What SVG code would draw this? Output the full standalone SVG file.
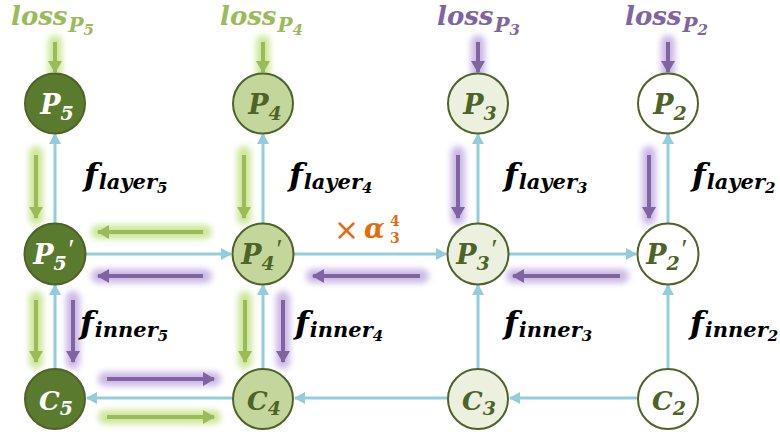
<svg xmlns="http://www.w3.org/2000/svg" width="780" height="432" viewBox="0 0 780 432">
<defs>
<style>
.t{font-family:"DejaVu Serif","Liberation Serif",serif;font-weight:bold;font-style:italic}
.node circle{stroke:#4f6228;stroke-width:2}
.dk circle{fill:#5a7b2e}
.md circle{fill:#c3d69b}
.lt circle{fill:#ebf1de}
.wh circle{fill:#ffffff}
.dk text{fill:#ffffff}
.md text,.lt text,.wh text{fill:#4f6228}
.pr{font-family:"Liberation Serif",serif;font-style:italic;font-weight:normal}
.blue{stroke:#92cddc;stroke-width:3;fill:none;marker-end:url(#ab)}
.g{stroke:#9bbb59;stroke-width:4;fill:none;marker-end:url(#ag)}
.p{stroke:#8064a2;stroke-width:4;fill:none;marker-end:url(#ap)}
.gg{stroke:#c6e48e;stroke-width:14;stroke-linecap:round;opacity:0.9;filter:url(#blur)}
.pg{stroke:#c4b0e2;stroke-width:14;stroke-linecap:round;opacity:0.9;filter:url(#blur)}
.lbl{fill:#000000}
.lg{fill:#9bbb59}
.lp{fill:#8064a2}
.or{fill:#e46c0a}
</style>
<filter id="blur" filterUnits="userSpaceOnUse" x="0" y="0" width="780" height="432"><feGaussianBlur stdDeviation="3"/></filter>
<marker id="ab" markerUnits="userSpaceOnUse" markerWidth="12" markerHeight="12" refX="10" refY="6" orient="auto"><path d="M0,0 L11,6 L0,12 Z" fill="#92cddc"/></marker>
<marker id="ag" markerUnits="userSpaceOnUse" markerWidth="13" markerHeight="14" refX="11" refY="7" orient="auto"><path d="M0,0 L12,7 L0,14 Z" fill="#9bbb59"/></marker>
<marker id="ap" markerUnits="userSpaceOnUse" markerWidth="13" markerHeight="14" refX="11" refY="7" orient="auto"><path d="M0,0 L12,7 L0,14 Z" fill="#8064a2"/></marker>
</defs>
<rect width="780" height="432" fill="#ffffff"/>

<g id="glows">
<line class="gg" x1="55" y1="42" x2="55" y2="72"/>
<line class="gg" x1="263" y1="42" x2="263" y2="72"/>
<line class="pg" x1="478" y1="42" x2="478" y2="72"/>
<line class="pg" x1="668" y1="42" x2="668" y2="72"/>
<line class="gg" x1="36" y1="153" x2="36" y2="218"/>
<line class="gg" x1="244" y1="153" x2="244" y2="218"/>
<line class="pg" x1="458" y1="153" x2="458" y2="218"/>
<line class="pg" x1="649" y1="153" x2="649" y2="218"/>
<line class="gg" x1="205" y1="232" x2="98" y2="232"/>
<line class="pg" x1="205" y1="276" x2="98" y2="276"/>
<line class="pg" x1="422" y1="276" x2="313" y2="276"/>
<line class="pg" x1="622" y1="276" x2="513" y2="276"/>
<line class="gg" x1="36" y1="298" x2="36" y2="362"/>
<line class="pg" x1="73" y1="298" x2="73" y2="362"/>
<line class="gg" x1="245" y1="298" x2="245" y2="362"/>
<line class="pg" x1="283" y1="298" x2="283" y2="362"/>
<line class="pg" x1="105" y1="379" x2="214" y2="379"/>
<line class="gg" x1="105" y1="417" x2="214" y2="417"/>
</g>

<g id="connectors">
<line class="blue" x1="55" y1="223" x2="55" y2="134"/>
<line class="blue" x1="263" y1="223" x2="263" y2="134"/>
<line class="blue" x1="478" y1="223" x2="478" y2="134"/>
<line class="blue" x1="668" y1="223" x2="668" y2="134"/>
<line class="blue" x1="55" y1="368" x2="55" y2="285"/>
<line class="blue" x1="263" y1="368" x2="263" y2="285"/>
<line class="blue" x1="478" y1="368" x2="478" y2="285"/>
<line class="blue" x1="668" y1="368" x2="668" y2="285"/>
<line class="blue" x1="86" y1="254" x2="231" y2="254"/>
<line class="blue" x1="294" y1="254" x2="446" y2="254"/>
<line class="blue" x1="509" y1="254" x2="636" y2="254"/>
<line class="blue" x1="637" y1="398" x2="510" y2="398"/>
<line class="blue" x1="447" y1="398" x2="295" y2="398"/>
<line class="blue" x1="232" y1="398" x2="87" y2="398"/>
</g>

<g id="flows">
<line class="g" x1="55" y1="42" x2="55" y2="72"/>
<line class="g" x1="263" y1="42" x2="263" y2="72"/>
<line class="p" x1="478" y1="42" x2="478" y2="72"/>
<line class="p" x1="668" y1="42" x2="668" y2="72"/>
<line class="g" x1="36" y1="155" x2="36" y2="218"/>
<line class="g" x1="244" y1="155" x2="244" y2="218"/>
<line class="p" x1="458" y1="155" x2="458" y2="218"/>
<line class="p" x1="649" y1="155" x2="649" y2="218"/>
<line class="g" x1="203" y1="232" x2="98" y2="232"/>
<line class="p" x1="203" y1="276" x2="98" y2="276"/>
<line class="p" x1="420" y1="276" x2="313" y2="276"/>
<line class="p" x1="620" y1="276" x2="513" y2="276"/>
<line class="g" x1="36" y1="300" x2="36" y2="362"/>
<line class="p" x1="73" y1="300" x2="73" y2="362"/>
<line class="g" x1="245" y1="300" x2="245" y2="362"/>
<line class="p" x1="283" y1="300" x2="283" y2="362"/>
<line class="p" x1="107" y1="379" x2="214" y2="379"/>
<line class="g" x1="107" y1="417" x2="214" y2="417"/>
</g>

<g id="P5" class="node dk"><circle cx="55" cy="103.5" r="30"/><text class="t" x="57" y="113.5" text-anchor="middle"><tspan font-size="27">P</tspan><tspan font-size="19" dy="6">5</tspan></text></g>
<g id="P4" class="node md"><circle cx="263" cy="103.5" r="30"/><text class="t" x="265" y="113.5" text-anchor="middle"><tspan font-size="27">P</tspan><tspan font-size="19" dy="6">4</tspan></text></g>
<g id="P3" class="node lt"><circle cx="478" cy="103.5" r="30"/><text class="t" x="480" y="113.5" text-anchor="middle"><tspan font-size="27">P</tspan><tspan font-size="19" dy="6">3</tspan></text></g>
<g id="P2" class="node wh"><circle cx="668" cy="103.5" r="30"/><text class="t" x="670" y="113.5" text-anchor="middle"><tspan font-size="27">P</tspan><tspan font-size="19" dy="6">2</tspan></text></g>

<g id="P5p" class="node dk"><circle cx="55" cy="254" r="30.5"/><text class="t" x="53" y="264" text-anchor="middle"><tspan font-size="27">P</tspan><tspan font-size="19" dy="6">5</tspan><tspan class="pr" font-size="28" dy="-12">′</tspan></text></g>
<g id="P4p" class="node md"><circle cx="263" cy="254" r="30.5"/><text class="t" x="261" y="264" text-anchor="middle"><tspan font-size="27">P</tspan><tspan font-size="19" dy="6">4</tspan><tspan class="pr" font-size="28" dy="-12">′</tspan></text></g>
<g id="P3p" class="node lt"><circle cx="478" cy="254" r="30.5"/><text class="t" x="476" y="264" text-anchor="middle"><tspan font-size="27">P</tspan><tspan font-size="19" dy="6">3</tspan><tspan class="pr" font-size="28" dy="-12">′</tspan></text></g>
<g id="P2p" class="node wh"><circle cx="668" cy="254" r="30.5"/><text class="t" x="666" y="264" text-anchor="middle"><tspan font-size="27">P</tspan><tspan font-size="19" dy="6">2</tspan><tspan class="pr" font-size="28" dy="-12">′</tspan></text></g>

<g id="C5" class="node dk"><circle cx="55" cy="399" r="30"/><text class="t" x="56" y="410" text-anchor="middle"><tspan font-size="26">C</tspan><tspan font-size="19" dy="5">5</tspan></text></g>
<g id="C4" class="node md"><circle cx="263" cy="399" r="30"/><text class="t" x="264" y="410" text-anchor="middle"><tspan font-size="26">C</tspan><tspan font-size="19" dy="5">4</tspan></text></g>
<g id="C3" class="node lt"><circle cx="478" cy="399" r="30"/><text class="t" x="479" y="410" text-anchor="middle"><tspan font-size="26">C</tspan><tspan font-size="19" dy="5">3</tspan></text></g>
<g id="C2" class="node wh"><circle cx="668" cy="399" r="30"/><text class="t" x="669" y="410" text-anchor="middle"><tspan font-size="26">C</tspan><tspan font-size="19" dy="5">2</tspan></text></g>

<g id="labels">
<text class="t lg" x="11" y="25"><tspan font-size="26">loss</tspan><tspan font-size="20" dx="1" dy="7">P</tspan><tspan font-size="15" dy="3">5</tspan></text>
<text class="t lg" x="220" y="25"><tspan font-size="26">loss</tspan><tspan font-size="20" dx="1" dy="7">P</tspan><tspan font-size="15" dy="3">4</tspan></text>
<text class="t lp" x="437" y="25"><tspan font-size="26">loss</tspan><tspan font-size="20" dx="1" dy="7">P</tspan><tspan font-size="15" dy="3">3</tspan></text>
<text class="t lp" x="625" y="25"><tspan font-size="26">loss</tspan><tspan font-size="20" dx="1" dy="7">P</tspan><tspan font-size="15" dy="3">2</tspan></text>

<text class="t lbl" x="84" y="186"><tspan font-size="32">f</tspan><tspan font-size="21" dx="1" dy="3">layer</tspan><tspan font-size="15" dy="4">5</tspan></text>
<text class="t lbl" x="289" y="186"><tspan font-size="32">f</tspan><tspan font-size="21" dx="1" dy="3">layer</tspan><tspan font-size="15" dy="4">4</tspan></text>
<text class="t lbl" x="504" y="186"><tspan font-size="32">f</tspan><tspan font-size="21" dx="1" dy="3">layer</tspan><tspan font-size="15" dy="4">3</tspan></text>
<text class="t lbl" x="692" y="186"><tspan font-size="32">f</tspan><tspan font-size="21" dx="1" dy="3">layer</tspan><tspan font-size="15" dy="4">2</tspan></text>

<text class="t lbl" x="80" y="334"><tspan font-size="32">f</tspan><tspan font-size="21" dx="1" dy="3">inner</tspan><tspan font-size="15" dy="4">5</tspan></text>
<text class="t lbl" x="295" y="334"><tspan font-size="32">f</tspan><tspan font-size="21" dx="1" dy="3">inner</tspan><tspan font-size="15" dy="4">4</tspan></text>
<text class="t lbl" x="504" y="334"><tspan font-size="32">f</tspan><tspan font-size="21" dx="1" dy="3">inner</tspan><tspan font-size="15" dy="4">3</tspan></text>
<text class="t lbl" x="690" y="334"><tspan font-size="32">f</tspan><tspan font-size="21" dx="1" dy="3">inner</tspan><tspan font-size="15" dy="4">2</tspan></text>

<text class="or" x="334" y="240" font-family="'DejaVu Sans','Liberation Sans',sans-serif" font-size="30">×</text>
<text class="t or" x="364" y="238" font-size="27">α</text>
<text class="or" x="390" y="226" font-family="'DejaVu Serif',serif" font-weight="bold" font-size="14">4</text>
<text class="or" x="390" y="243" font-family="'DejaVu Serif',serif" font-weight="bold" font-size="14">3</text>
</g>
</svg>
